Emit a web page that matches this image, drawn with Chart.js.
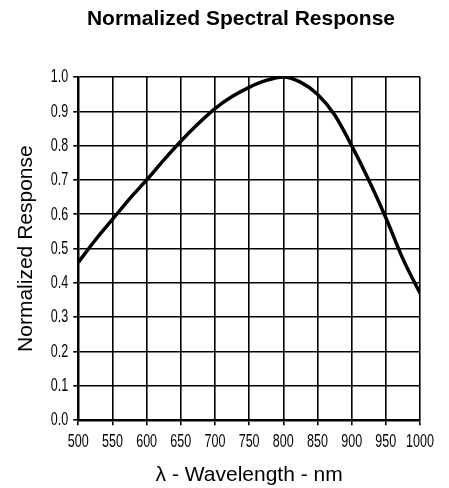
<!DOCTYPE html>
<html>
<head>
<meta charset="utf-8">
<script src="https://cdn.jsdelivr.net/npm/chart.js@4/dist/chart.umd.min.js"></script>
<style>
  html, body { margin: 0; padding: 0; background: #fff; }
  #wrap { width: 449px; height: 488px; position: relative; }
</style>
</head>
<body>
<div id="wrap"><canvas id="c" width="449" height="488"></canvas></div>
<script>
/* Valores: resposta espectral normalizada. */
const wavelengths = [500, 525, 550, 575, 600, 625, 650, 675, 700, 725, 750, 775, 800, 825, 850, 875, 900, 925, 950, 975, 1000];
const response    = [0.46, 0.525, 0.585, 0.645, 0.70, 0.758, 0.813, 0.863, 0.908, 0.943, 0.970, 0.990, 1.0, 0.985, 0.95, 0.89, 0.80, 0.70, 0.59, 0.47, 0.37];
const xTicks = [500, 550, 600, 650, 700, 750, 800, 850, 900, 950, 1000];
const yTicks = [0.0, 0.1, 0.2, 0.3, 0.4, 0.5, 0.6, 0.7, 0.8, 0.9, 1.0];
const TITLE = 'Normalized Spectral Response';

const LABEL_FONT = "'Liberation Sans', Arial, sans-serif";
const INK = '#000';

/* Título e rótulos dos ticks desenhados à mão: a fonte original é bem
 * condensada, então o texto é comprimido na horizontal. As posições vêm
 * das escalas do próprio Chart.js. */
const condensedText = {
  id: 'condensedText',
  afterDraw(chart) {
    const { ctx, scales: { x, y } } = chart;
    const squeeze = (text, px, py, align) => {
      ctx.save();
      ctx.translate(px, py);
      ctx.scale(0.66, 1);
      ctx.textAlign = align;
      ctx.fillText(text, 0, 0);
      ctx.restore();
    };
    ctx.save();
    ctx.fillStyle = INK;
    ctx.textBaseline = 'middle';
    ctx.font = '19px ' + LABEL_FONT;
    xTicks.forEach(v => squeeze(String(v), x.getPixelForValue(v), x.top + 22, 'center'));
    yTicks.forEach(v => squeeze(v.toFixed(1), y.right - 10, y.getPixelForValue(v), 'right'));

    ctx.font = 'bold 21px ' + LABEL_FONT;
    ctx.textAlign = 'center';
    ctx.fillText(TITLE, 241, 19);
    ctx.restore();
  },
};

new Chart(document.getElementById('c').getContext('2d'), {
  type: 'line',
  plugins: [condensedText],
  data: {
    datasets: [{
      data: wavelengths.map((w, i) => ({ x: w, y: response[i] })),
      borderColor: INK,
      borderWidth: 3.5,
      pointRadius: 0,
      fill: false,
      cubicInterpolationMode: 'monotone',
    }],
  },
  options: {
    responsive: false,
    animation: false,
    layout: { padding: { left: 10, right: 29, top: 77, bottom: 0 } },
    scales: {
      x: {
        type: 'linear',
        min: 500, max: 1000,
        afterBuildTicks: s => { s.ticks = xTicks.map(v => ({ value: v })); },
        ticks: { color: 'transparent', font: { size: 13, family: LABEL_FONT }, padding: 9, maxRotation: 0, autoSkip: false, callback: v => String(v) },
        grid: { color: INK, lineWidth: 1.6, tickLength: 5 },
        border: { color: INK, width: 2.5 },
        title: { display: true, text: 'λ - Wavelength - nm', color: INK, font: { size: 21, family: LABEL_FONT }, padding: { top: 4, bottom: 0 } },
      },
      y: {
        min: 0, max: 1,
        afterBuildTicks: s => { s.ticks = yTicks.map(v => ({ value: v })); },
        ticks: { color: 'transparent', font: { size: 13, family: LABEL_FONT }, padding: 6, autoSkip: false, callback: v => v.toFixed(1) },
        grid: { color: INK, lineWidth: 1.6, tickLength: 5 },
        border: { color: INK, width: 2.5 },
        title: { display: true, text: 'Normalized Response', color: INK, font: { size: 21, family: LABEL_FONT }, padding: 4 },
      },
    },
    plugins: {
      legend: { display: false },
      tooltip: { enabled: false },
      title: { display: false },
    },
  },
});
</script>
</body>
</html>
